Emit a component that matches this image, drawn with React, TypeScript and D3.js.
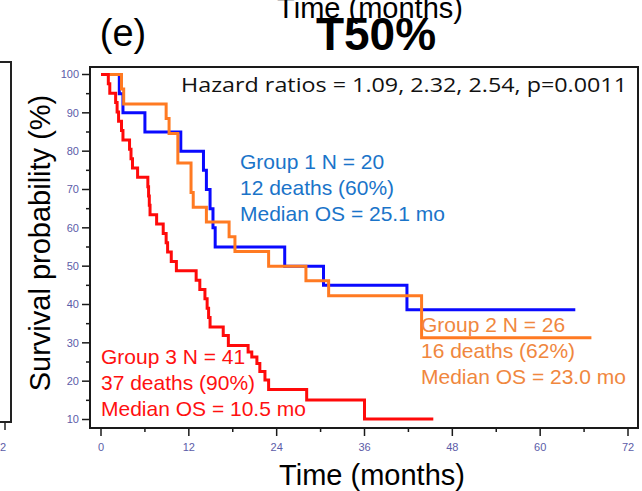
import * as d3 from 'd3'

const W = 642
const H = 491
const FRAME = { left: 90, right: 638, top: 67, bottom: 428 }

// Group 1 (blue)
const g1Times = [0, 2.5, 3.0, 6.0, 10.9, 14.0, 14.4, 14.9, 15.3, 15.6, 25.1, 30.4, 41.8, 64.8]
const g1Surv = [100, 95, 90, 85, 80, 75, 70, 65, 60, 55, 50, 45, 38.6, 38.6]

// Group 2 (orange)
const g2Times = [0, 2.8, 3.1, 8.9, 9.3, 10.5, 12.3, 12.6, 14.4, 17.5, 18.3, 22.9, 28.0, 31.1, 43.8, 67.0]
const g2Surv = [100, 96.2, 92.3, 88.5, 84.6, 76.9, 69.2, 65.4, 61.5, 57.7, 53.8, 50.0, 46.2, 42.3, 31.3, 31.3]

// Group 3 (red)
const g3Times = [0, 1.0, 1.2, 2.0, 2.2, 2.4, 2.8, 3.0, 3.9, 4.1, 4.3, 5.0, 6.4, 6.5, 6.6, 6.7, 7.6, 8.5, 8.9, 9.1,
  9.6, 10.3, 13.0, 13.5, 14.2, 14.5, 14.7, 14.9, 16.7, 17.4, 20.1, 20.6, 21.3, 21.7, 22.4, 22.9, 28.1, 36.0, 45.4]
const g3Surv = [100, 97.6, 95.1, 92.7, 90.2, 87.8, 85.4, 82.9, 80.5, 78.0, 75.6, 73.2, 70.7, 68.3, 65.9, 63.4, 61.0, 58.5, 56.1, 53.7,
  51.2, 48.8, 46.3, 43.9, 41.5, 39.0, 36.6, 34.1, 31.9, 29.3, 27.6, 26.3, 24.6, 22.5, 20.3, 17.8, 15.1, 10.1, 10.1]

const xTicks = [0, 12, 24, 36, 48, 60, 72]
const xMinor = [6, 18, 30, 42, 54, 66]
const yTicks = [10, 20, 30, 40, 50, 60, 70, 80, 90, 100]
const yMinor = [15, 25, 35, 45, 55, 65, 75, 85, 95]

const groupLabels = [
  { lines: ['Group 1 N = 20', '12 deaths (60%)', 'Median OS = 25.1 mo'], color: '#1a74c9', x: 240, y: 169 },
  { lines: ['Group 2 N = 26', '16 deaths (62%)', 'Median OS = 23.0 mo'], color: '#f0873e', x: 421, y: 332 },
  { lines: ['Group 3 N = 41', '37 deaths (90%)', 'Median OS = 10.5 mo'], color: '#ff1010', x: 101, y: 364 },
]

const tickColor = '#5c5ca8'

export default function App() {
  const x = d3.scaleLinear().domain([0, 72]).range([101, 628])
  const y = d3.scaleLinear().domain([10, 100]).range([419.5, 74.5])

  const line = d3.line<[number, number]>()
    .x(d => x(d[0]))
    .y(d => y(d[1]))
    .curve(d3.curveStepAfter)

  const series = [
    { t: g1Times, s: g1Surv, color: '#0a0aff' },
    { t: g2Times, s: g2Surv, color: '#ff7a22' },
    { t: g3Times, s: g3Surv, color: '#ff0a0a' },
  ]

  return (
    <svg width={W} height={H} style={{ position: 'absolute', left: 0, top: 0, background: '#fff' }}
      fontFamily="'Liberation Sans', Arial, sans-serif">
      {/* remnant of previous panel */}
      <rect x={-10} y={62} width={21} height={360} fill="none" stroke="#222" strokeWidth={2} />
      <line x1={5} x2={5} y1={422} y2={430} stroke="#222" strokeWidth={1.5} />
      <text x={0} y={451} textAnchor="middle" fontSize={11} fill={tickColor}>72</text>

      {/* titles */}
      <text x={370} y={18} textAnchor="middle" fontSize={29} fill="#000">Time (months)</text>
      <text x={123} y={46} textAnchor="middle" fontSize={38} fill="#000">(e)</text>
      <text x={376} y={50} textAnchor="middle" fontSize={46} fontWeight="bold" fill="#000">T50%</text>

      {/* frame */}
      <rect x={FRAME.left} y={FRAME.top} width={FRAME.right - FRAME.left} height={FRAME.bottom - FRAME.top}
        fill="none" stroke="#1a1a1a" strokeWidth={2} />

      {/* y axis */}
      {yTicks.map(t => (
        <g key={t}>
          <line x1={FRAME.left - 8} x2={FRAME.left} y1={y(t)} y2={y(t)} stroke="#1a1a1a" strokeWidth={1.5} />
          <text x={FRAME.left - 11} y={y(t)} dy="0.35em" textAnchor="end" fontSize={11} fill={tickColor}>{t}</text>
        </g>
      ))}
      {yMinor.map(t => (
        <line key={t} x1={FRAME.left - 4} x2={FRAME.left} y1={y(t)} y2={y(t)} stroke="#1a1a1a" strokeWidth={1.5} />
      ))}

      {/* x axis */}
      {xTicks.map(t => (
        <g key={t}>
          <line x1={x(t)} x2={x(t)} y1={FRAME.bottom} y2={FRAME.bottom + 8} stroke="#1a1a1a" strokeWidth={1.5} />
          <text x={x(t)} y={451} textAnchor="middle" fontSize={11} fill={tickColor}>{t}</text>
        </g>
      ))}
      {xMinor.map(t => (
        <line key={t} x1={x(t)} x2={x(t)} y1={FRAME.bottom} y2={FRAME.bottom + 4} stroke="#1a1a1a" strokeWidth={1.5} />
      ))}

      {/* curves */}
      {series.map((sr, i) => (
        <path key={i} d={line(sr.t.map((t, j) => [t, sr.s[j]] as [number, number])) || ''}
          fill="none" stroke={sr.color} strokeWidth={3} />
      ))}

      {/* annotations */}
      <text x={181} y={92} fontFamily="'Open Sans', Lato, sans-serif" fontSize={20}
        textLength={446} lengthAdjust="spacingAndGlyphs" fill="#111">
        Hazard ratios = 1.09, 2.32, 2.54, p=0.0011
      </text>
      {groupLabels.map((g, i) => (
        <g key={i}>
          {g.lines.map((l, j) => (
            <text key={j} x={g.x} y={g.y + j * 26} fontSize={21} fill={g.color}>{l}</text>
          ))}
        </g>
      ))}

      {/* axis titles */}
      <text x={372} y={485} textAnchor="middle" fontSize={29} fill="#000">Time (months)</text>
      <text transform="translate(50,243) rotate(-90)" textAnchor="middle" fontSize={29} fill="#000">
        Survival probability (%)
      </text>
    </svg>
  )
}
